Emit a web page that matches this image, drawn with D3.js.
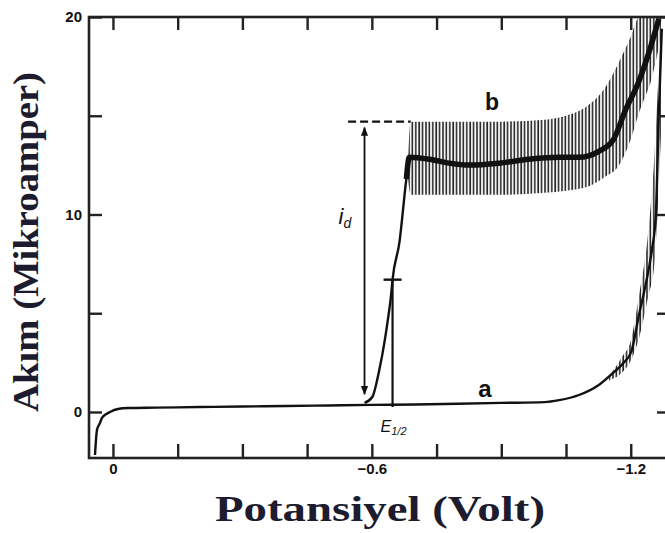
<html>
<head>
    <script src="https://d3js.org/d3.v7.min.js"></script>
</head>
<body style="margin:0;background:#fff">
    <svg id="s" width="665" height="533"></svg>
    <script>
        // potential (V) vs current (uA)
        const curveA_E = [0.0416, 0.037, 0.030, 0.0254, 0.015, 0.0069, -0.0116, -0.035, -0.10, -0.2, -0.3, -0.4, -0.5, -0.6, -0.7, -0.8, -0.9, -1.0, -1.034, -1.08, -1.126, -1.16, -1.184, -1.202, -1.218, -1.235, -1.249, -1.258, -1.265, -1.272]
        const curveA_I = [-2.18, -0.91, -0.55, -0.3, -0.1, 0.0, 0.15, 0.2, 0.22, 0.25, 0.28, 0.3, 0.33, 0.36, 0.38, 0.42, 0.46, 0.5, 0.6, 0.86, 1.37, 2.0, 2.5, 3.1, 4.8, 6.5, 8.2, 9.9, 15, 19.4]

        const curveB_E = [-0.583, -0.601, -0.617, -0.629, -0.636, -0.645, -0.648, -0.664, -0.680, -0.687, -0.733, -0.779, -0.825, -0.895, -0.964, -1.034, -1.08, -1.126, -1.16, -1.188, -1.218, -1.242, -1.265]
        const curveB_I = [0.46, 0.76, 2.1, 3.5, 4.5, 6.0, 6.7, 8.6, 11.8, 12.9, 12.8, 12.6, 12.5, 12.6, 12.8, 12.9, 12.9, 13.2, 13.8, 15.3, 16.7, 18.2, 19.9]

        // oscillation envelope of the drops
        const bandB_E = [-0.683, -0.69, -0.8, -0.9, -1.0, -1.05, -1.1, -1.14, -1.17, -1.2, -1.22, -1.25, -1.27]
        const bandB_top = [12.0, 14.7, 14.7, 14.7, 14.8, 15.0, 15.5, 16.4, 17.6, 19.0, 20, 20, 20]
        const bandB_bot = [12.0, 11.0, 11.0, 11.0, 11.1, 11.2, 11.4, 11.9, 12.4, 13.8, 15.2, 17.0, 19.0]

        const bandA_E = [-1.15, -1.18, -1.2, -1.22, -1.24, -1.255, -1.27]
        const bandA_top = [1.8, 2.8, 3.6, 6.0, 9.0, 13.0, 20]
        const bandA_bot = [1.6, 2.0, 2.6, 3.8, 5.8, 7.5, 14]

        const xTicks = [0, -0.15, -0.3, -0.45, -0.6, -0.75, -0.9, -1.05, -1.2]
        const xTickLabels = [0, -0.6, -1.2]
        const yTicks = [0, 5, 10, 15, 20]
        const yTickLabels = [0, 10, 20]

        const idE = -0.583, idTop = 14.4, idBottom = 0.9, plateauTop = 14.7, dashFromE = -0.545
        const halfE = -0.648, halfI = 6.7

        const LEFT = 89, RIGHT = 670, TOP = 17, BOTTOM = 458
        const svg = d3.select("svg")

        const x = d3.scaleLinear().domain([0.0555, -1.291]).range([LEFT, RIGHT])
        const y = d3.scaleLinear().domain([-2.33, 20]).range([BOTTOM, TOP])

        const defs = svg.append("defs")
        const pat = defs.append("pattern").attr("id", "osc")
            .attr("width", 3.4).attr("height", 10).attr("patternUnits", "userSpaceOnUse")
        pat.append("rect").attr("width", 3.4).attr("height", 10).attr("fill", "#fff")
        pat.append("line").attr("x1", 1).attr("x2", 1).attr("y1", 0).attr("y2", 10)
            .attr("stroke", "#222").attr("stroke-width", 1.6)
        defs.append("clipPath").attr("id", "plot").append("rect")
            .attr("x", LEFT).attr("y", TOP).attr("width", RIGHT - LEFT).attr("height", BOTTOM - TOP)
        defs.append("marker").attr("id", "arr").attr("viewBox", "0 0 10 10")
            .attr("refX", 9).attr("refY", 5).attr("markerWidth", 5).attr("markerHeight", 5)
            .attr("orient", "auto-start-reverse")
            .append("path").attr("d", "M0,1L10,5L0,9Z").attr("fill", "#111")

        const plot = svg.append("g").attr("clip-path", "url(#plot)")

        // oscillation bands
        const band = (E, top, bot) => d3.area()
            .x((d, i) => x(E[i])).y0((d, i) => y(bot[i])).y1((d, i) => y(top[i]))
            .curve(d3.curveMonotoneX)(E)
        plot.append("path").attr("d", band(bandB_E, bandB_top, bandB_bot)).attr("fill", "url(#osc)")
        plot.append("path").attr("d", band(bandA_E, bandA_top, bandA_bot)).attr("fill", "url(#osc)")

        const line = (E, I) => d3.line().x((d, i) => x(E[i])).y((d, i) => y(I[i]))
            .curve(d3.curveMonotoneX)(E)
        plot.append("path").attr("d", line(curveA_E, curveA_I))
            .attr("fill", "none").attr("stroke", "#111").attr("stroke-width", 2.4)
        plot.append("path").attr("d", line(curveB_E, curveB_I))
            .attr("fill", "none").attr("stroke", "#111").attr("stroke-width", 2.4)
        // dark centre of the drop oscillations
        plot.append("path").attr("d", line(curveB_E.slice(8), curveB_I.slice(8)))
            .attr("fill", "none").attr("stroke", "#111").attr("stroke-width", 5.5)

        // annotations
        svg.append("line").attr("x1", x(dashFromE)).attr("x2", x(-0.69))
            .attr("y1", y(plateauTop)).attr("y2", y(plateauTop))
            .attr("stroke", "#111").attr("stroke-width", 2.2).attr("stroke-dasharray", "8,4")
        svg.append("line").attr("x1", x(idE)).attr("x2", x(idE))
            .attr("y1", y(idTop)).attr("y2", y(idBottom))
            .attr("stroke", "#111").attr("stroke-width", 1.8)
            .attr("marker-start", "url(#arr)").attr("marker-end", "url(#arr)")
        svg.append("line").attr("x1", x(halfE)).attr("x2", x(halfE))
            .attr("y1", y(halfI)).attr("y2", y(0.25))
            .attr("stroke", "#111").attr("stroke-width", 2.2)
        svg.append("line").attr("x1", x(halfE) - 9).attr("x2", x(halfE) + 9)
            .attr("y1", y(halfI)).attr("y2", y(halfI))
            .attr("stroke", "#111").attr("stroke-width", 2.4)

        const id = svg.append("text").attr("x", x(idE) - 26).attr("y", y(9.5))
            .attr("font-family", "Liberation Sans, sans-serif").attr("font-style", "italic")
            .attr("font-size", "22px").attr("fill", "#111")
        id.append("tspan").text("i")
        id.append("tspan").attr("font-size", "14px").attr("dy", 4).text("d")

        const eh = svg.append("text").attr("x", x(halfE) - 12).attr("y", 432)
            .attr("font-family", "Liberation Sans, sans-serif").attr("font-style", "italic")
            .attr("font-size", "16px").attr("fill", "#111")
        eh.append("tspan").text("E")
        eh.append("tspan").attr("font-size", "11px").attr("dy", 3).text("1/2")

        svg.append("text").attr("x", 492).attr("y", 110).attr("text-anchor", "middle")
            .attr("font-family", "Liberation Sans, sans-serif").attr("font-weight", "bold")
            .attr("font-size", "23px").attr("fill", "#111").text("b")
        svg.append("text").attr("x", 485).attr("y", 397).attr("text-anchor", "middle")
            .attr("font-family", "Liberation Sans, sans-serif").attr("font-weight", "bold")
            .attr("font-size", "24px").attr("fill", "#111").text("a")

        // frame and ticks
        svg.append("rect").attr("x", LEFT).attr("y", TOP)
            .attr("width", RIGHT - LEFT).attr("height", BOTTOM - TOP)
            .attr("fill", "none").attr("stroke", "#222").attr("stroke-width", 2.6)

        const fmt = d => d === 0 ? "0" : d3.format(".1f")(d).replace("-", "\u2212")
        const axisStyle = g => {
            g.select(".domain").remove()
            g.selectAll(".tick line").attr("stroke", "#222").attr("stroke-width", 2.4)
            g.selectAll(".tick text").attr("font-family", "Liberation Sans, sans-serif")
                .attr("font-weight", "bold").attr("font-size", "15px").attr("fill", "#111")
        }

        svg.append("g").attr("transform", `translate(0,${BOTTOM})`)
            .call(d3.axisBottom(x).tickValues(xTicks).tickSizeInner(-14).tickSizeOuter(0)
                .tickPadding(5).tickFormat(d => xTickLabels.includes(d) ? fmt(d) : ""))
            .call(axisStyle)
        svg.append("g").attr("transform", `translate(0,${TOP})`)
            .call(d3.axisTop(x).tickValues(xTicks).tickSizeInner(-13).tickSizeOuter(0).tickFormat(""))
            .call(axisStyle)
        svg.append("g").attr("transform", `translate(${LEFT},0)`)
            .call(d3.axisLeft(y).tickValues(yTicks).tickSizeInner(-13).tickSizeOuter(0)
                .tickPadding(7).tickFormat(d => yTickLabels.includes(d) ? d : ""))
            .call(axisStyle)
        svg.append("g").attr("transform", `translate(${RIGHT},0)`)
            .call(d3.axisRight(y).tickValues(yTicks).tickSizeInner(-13).tickSizeOuter(0).tickFormat(""))
            .call(axisStyle)

        // axis titles
        svg.append("text").attr("x", 215).attr("y", 521)
            .attr("textLength", 330).attr("lengthAdjust", "spacingAndGlyphs")
            .attr("font-family", "Liberation Serif, serif").attr("font-weight", "bold")
            .attr("font-size", "35px").attr("fill", "#1c1c2e").text("Potansiyel (Volt)")
        svg.append("text").attr("transform", "translate(38,412) rotate(-90)")
            .attr("textLength", 340).attr("lengthAdjust", "spacingAndGlyphs")
            .attr("font-family", "Liberation Serif, serif").attr("font-weight", "bold")
            .attr("font-size", "35px").attr("fill", "#1c1c2e").text("Akım (Mikroamper)")
    </script>
</body>
</html>
